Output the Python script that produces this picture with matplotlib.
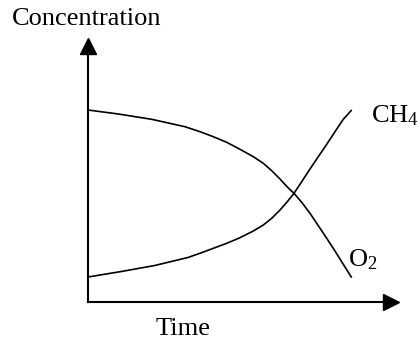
#!/usr/bin/env python3

import matplotlib
matplotlib.use("Agg")
import matplotlib.pyplot as plt

# Curve values (arbitrary units)
time_o2 = [0, 1.148, 2.413, 3.674, 4.242, 4.746, 5.254, 5.758, 6.261, 6.640, 6.958,
           7.273, 7.549, 7.803, 8.095, 8.409, 8.723, 9.042, 9.356, 9.670, 9.989]
conc_o2 = [7.273, 7.121, 6.920, 6.640, 6.451, 6.261, 6.049, 5.784, 5.504, 5.254, 4.973,
           4.659, 4.356, 4.117, 3.777, 3.360, 2.890, 2.413, 1.932, 1.428, 0.920]

time_ch4 = [0, 1.261, 2.527, 3.788, 4.242, 4.746, 5.254, 5.758, 6.261, 6.640, 6.958,
            7.273, 7.549, 7.803, 8.095, 8.409, 8.723, 9.042, 9.356, 9.670, 9.989]
conc_ch4 = [0.947, 1.155, 1.383, 1.686, 1.845, 2.034, 2.223, 2.436, 2.689, 2.917, 3.170,
            3.485, 3.799, 4.117, 4.557, 5.038, 5.504, 5.973, 6.451, 6.920, 7.273]

X_LABEL = "Time"
Y_LABEL = "Concentration"
O2_LABEL = "O$_2$"
CH4_LABEL = "CH$_4$"

FONT = "Liberation Serif"
FONT_SIZE = 19
W, H = 418, 342  # figure size in pixels


def main():
    plt.rcParams['font.family'] = [FONT, 'DejaVu Serif']
    plt.rcParams['mathtext.default'] = 'regular'

    fig = plt.figure(figsize=(W / 100, H / 100), dpi=100)
    # origin of the axes at pixel (88, 302), arrow heads centred at the ends
    ax = fig.add_axes([88 / W, 40 / H, 303 / W, 256 / H])
    ax.set_xlim(0, 303 / 26.4)
    ax.set_ylim(0, 256 / 26.4)

    ax.plot(time_o2, conc_o2, color='black', lw=1.2, solid_capstyle='butt')
    ax.plot(time_ch4, conc_ch4, color='black', lw=1.2, solid_capstyle='butt')

    for side in ['top', 'right']:
        ax.spines[side].set_visible(False)
    for side in ['left', 'bottom']:
        ax.spines[side].set_linewidth(1.5)
    ax.set_xticks([])
    ax.set_yticks([])
    ax.patch.set_visible(False)

    # arrow heads
    ax.plot(1, 0, '>', color='black', ms=11.5, transform=ax.transAxes, clip_on=False)
    ax.plot(0, 1, '^', color='black', ms=11, transform=ax.transAxes, clip_on=False)

    fig.text(12 / W, 1 - 25 / H, Y_LABEL, fontsize=FONT_SIZE, va='baseline', ha='left')
    fig.text(156 / W, 1 - 335 / H, X_LABEL, fontsize=FONT_SIZE, va='baseline', ha='left')
    fig.text(371 / W, 1 - 122 / H, CH4_LABEL, fontsize=FONT_SIZE, va='baseline', ha='left')
    fig.text(348 / W, 1 - 266 / H, O2_LABEL, fontsize=FONT_SIZE, va='baseline', ha='left')

    fig.savefig("out.png", dpi=100, facecolor='white')


if __name__ == "__main__":
    main()
